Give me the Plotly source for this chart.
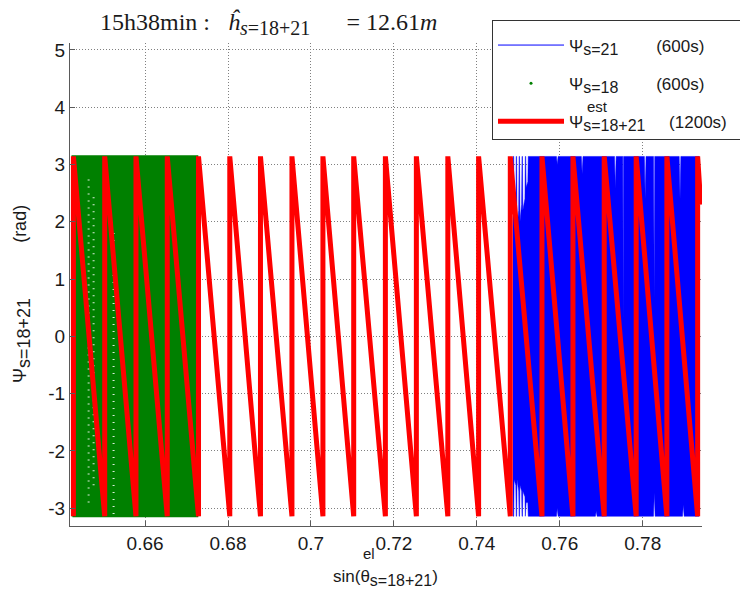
import plotly.graph_objects as go

# ---------------- data ----------------
x_ticks = [0.66, 0.68, 0.70, 0.72, 0.74, 0.76, 0.78]
x_tick_labels = ["0.66", "0.68", "0.7", "0.72", "0.74", "0.76", "0.78"]
y_ticks = [-3, -2, -1, 0, 1, 2, 3, 4, 5]
y_tick_labels = ["-3", "-2", "-1", "0", "1", "2", "3", "4", "5"]

psi_lo = -3.1416
psi_hi = 3.1416

# estimated phase (s=18+21): x positions of the 2*pi wraps (sawtooth)
red_wrap_x = [0.64272, 0.65027, 0.65781, 0.66535, 0.67289, 0.68043, 0.68783,
              0.69542, 0.70289, 0.71031, 0.71795, 0.72542, 0.73301, 0.74043,
              0.74807, 0.75571, 0.76318, 0.77072, 0.77843, 0.78583, 0.79325]
red_last_x = 0.7940
red_last_psi = 2.3

# satellite 18 phase samples: dense band (x extent)
green_x_start = 0.6425
green_x_end = 0.6726
# sparse (gappy) columns inside the satellite-18 band
green_gap_x = [0.64639, 0.64759, 0.65241]
green_gap_lo = [-2.9, -2.6, -3.1]
green_gap_hi = [2.8, 2.5, 1.9]

# satellite 21 phase: dense band envelope (upper / lower edges)
blue_top_x = [0.7487, 0.7489, 0.7490, 0.7494, 0.7495, 0.7496, 0.7497, 0.7501,
              0.7502, 0.7503, 0.7504, 0.7508, 0.7509, 0.7510, 0.7511, 0.7516,
              0.7517, 0.7518, 0.7519, 0.7523, 0.7524, 0.7592, 0.7594, 0.7596,
              0.7652, 0.7654, 0.7656, 0.7732, 0.7734, 0.7736, 0.7752, 0.7753,
              0.7754, 0.7804, 0.7806, 0.7808, 0.7826, 0.7828, 0.7829, 0.7888,
              0.7890, 0.7892, 0.7936]
blue_top_psi = [3.14, 3.14, 2.0, 2.1, 3.14, 3.14, 1.9, 2.2,
                3.14, 3.14, 2.0, 2.3, 3.14, 3.14, 2.2, 2.4,
                3.14, 3.14, 2.6, 2.7, 3.14, 3.14, 3.0, 3.14,
                3.14, 2.84, 3.14, 3.14, 2.58, 3.14, 3.14, 0.26,
                3.14, 3.14, 2.4, 3.14, 3.14, 0.63, 3.14, 3.14,
                2.4, 3.14, 3.14]
blue_bot_x = [0.7487, 0.7489, 0.7490, 0.7494, 0.7495, 0.7496, 0.7497, 0.7501,
              0.7502, 0.7503, 0.7504, 0.7508, 0.7509, 0.7510, 0.7511, 0.7516,
              0.7517, 0.7518, 0.7519, 0.7523, 0.7524, 0.7592, 0.7594, 0.7596,
              0.7686, 0.7688, 0.7690, 0.7826, 0.7828, 0.7830, 0.7896, 0.7898,
              0.7900, 0.7936]
blue_bot_psi = [-3.14, -3.14, -2.5, -2.6, -3.14, -3.14, -2.5, -2.7,
                -3.14, -3.14, -2.6, -2.7, -3.14, -3.14, -2.7, -2.8,
                -3.14, -3.14, -2.9, -2.9, -3.14, -3.14, -3.0, -3.14,
                -3.14, -3.05, -3.14, -3.14, -2.73, -3.14, -3.14, -2.94,
                -3.14, -3.14]

x_range = [0.6419, 0.7943]
y_range = [-3.31, 5.12]

SUB = "<sub><span style='font-size:{}px'>{}</span></sub>"
legend_names = ["Ψ" + SUB.format(16, "s=21"),
                "Ψ" + SUB.format(16, "s=18"),
                "Ψ" + SUB.format(16, "s=18+21")]
legend_durations = ["(600s)", "(600s)", "(1200s)"]

# ---------------- build traces ----------------
red_x, red_y = [], []
for w in red_wrap_x:
    red_x += [w, w]
    red_y += [psi_lo, psi_hi]
red_x.append(red_last_x)
red_y.append(red_last_psi)

blue_poly_x = blue_top_x + blue_bot_x[::-1]
blue_poly_y = blue_top_psi + blue_bot_psi[::-1]

green_poly_x = [green_x_start, green_x_start, green_x_end, green_x_end, green_x_start]
green_poly_y = [psi_lo, psi_hi, psi_hi, psi_lo, psi_lo]

gap_x, gap_y = [], []
for gx, lo, hi in zip(green_gap_x, green_gap_lo, green_gap_hi):
    gap_x += [gx, gx, None]
    gap_y += [lo, hi, None]

BLUE = "#0000ff"
GREEN = "#008000"
RED = "#ff0000"
FONT = "Liberation Sans, Arial, sans-serif"

nb = "\u00a0"
names = [
    legend_names[0] + nb * 8 + legend_durations[0] + nb * 3,
    legend_names[1] + nb * 8 + legend_durations[1] + nb * 3,
    legend_names[2] + nb * 5 + legend_durations[2] + nb * 3,
]

fig = go.Figure()
fig.add_trace(go.Scatter(x=blue_poly_x, y=blue_poly_y, mode="lines", fill="toself",
                         fillcolor=BLUE, line=dict(color=BLUE, width=0.5),
                         showlegend=False, hoverinfo="skip"))
fig.add_trace(go.Scatter(x=green_poly_x, y=green_poly_y, mode="lines", fill="toself",
                         fillcolor=GREEN, line=dict(color=GREEN, width=2),
                         showlegend=False, hoverinfo="skip"))
fig.add_trace(go.Scatter(x=gap_x, y=gap_y, mode="lines",
                         line=dict(color="rgba(255,255,255,0.85)", width=2, dash="1px,6px"),
                         showlegend=False, hoverinfo="skip"))
# legend entries
fig.add_trace(go.Scatter(x=[None], y=[None], mode="lines", line=dict(color=BLUE, width=1),
                         name=names[0], legendgroup="a"))
fig.add_trace(go.Scatter(x=[None], y=[None], mode="markers",
                         marker=dict(color=GREEN, size=3), name=names[1], legendgroup="b"))
fig.add_trace(go.Scatter(x=red_x, y=red_y, mode="lines", line=dict(color=RED, width=5),
                         name=names[2], legendgroup="c"))

L, R, T, B = 70, 38, 43, 69
W, H = 740, 595
pw, ph = W - L - R, H - T - B

def px2paper_x(px):
    return (px - L) / pw

def px2paper_y(py):
    return (H - B - py) / ph

axis_common = dict(
    showgrid=True, gridcolor="#808080", griddash="1px,2px", gridwidth=1,
    zeroline=False, showline=True, linecolor="#5a5a5a", linewidth=1,
    ticks="inside", ticklen=5, tickcolor="#5a5a5a",
    tickfont=dict(family=FONT, size=19, color="#1a1a1a"),
    tickmode="array",
)

fig.update_layout(
    width=W, height=H,
    margin=dict(l=L, r=R, t=T, b=B, autoexpand=False),
    paper_bgcolor="white", plot_bgcolor="white",
    xaxis=dict(range=x_range, tickvals=x_ticks, ticktext=x_tick_labels, **axis_common),
    yaxis=dict(range=y_range, tickvals=y_ticks, ticktext=y_tick_labels, **axis_common),
    title=dict(
        text="15h38min" + nb + ":" + nb * 3 + "<i>ĥ</i>"
             + "<sub><span style='font-size:20px'><i>s</i>=18+21</span></sub>"
             + nb * 6 + "= 12.61<i>m</i>",
        font=dict(family="Liberation Serif, Times New Roman, serif", size=24, color="#1a1a1a"),
        x=px2paper_x(100), xref="paper", xanchor="left",
        y=1 - 22 / H, yref="container", yanchor="middle",
    ),
    legend=dict(
        x=px2paper_x(492), y=px2paper_y(20), xanchor="left", yanchor="top",
        bgcolor="white", bordercolor="#333333", borderwidth=1,
        font=dict(family=FONT, size=17, color="#1a1a1a"),
        itemwidth=66, tracegroupgap=13, traceorder="grouped",
        title=dict(text=nb, font=dict(size=5)),
    ),
    showlegend=True,
    annotations=[
        dict(text="sin(θ" + SUB.format(16, "s=18+21") + ")",
             x=px2paper_x(385), y=px2paper_y(578), xref="paper", yref="paper",
             xanchor="center", yanchor="middle", showarrow=False,
             font=dict(family=FONT, size=17, color="#1a1a1a")),
        dict(text="el", x=px2paper_x(369), y=px2paper_y(553), xref="paper", yref="paper",
             xanchor="center", yanchor="middle", showarrow=False,
             font=dict(family=FONT, size=15, color="#1a1a1a")),
        dict(text="Ψ" + SUB.format(18, "s=18+21") + nb * 11 + "(rad)",
             x=px2paper_x(22), y=px2paper_y(294), xref="paper", yref="paper",
             xanchor="center", yanchor="middle", showarrow=False, textangle=-90,
             font=dict(family=FONT, size=18, color="#1a1a1a")),
        dict(text="est", x=px2paper_x(597), y=px2paper_y(107), xref="paper", yref="paper",
             xanchor="center", yanchor="middle", showarrow=False,
             font=dict(family=FONT, size=15, color="#1a1a1a")),
    ],
)

fig.write_html("out.html")
